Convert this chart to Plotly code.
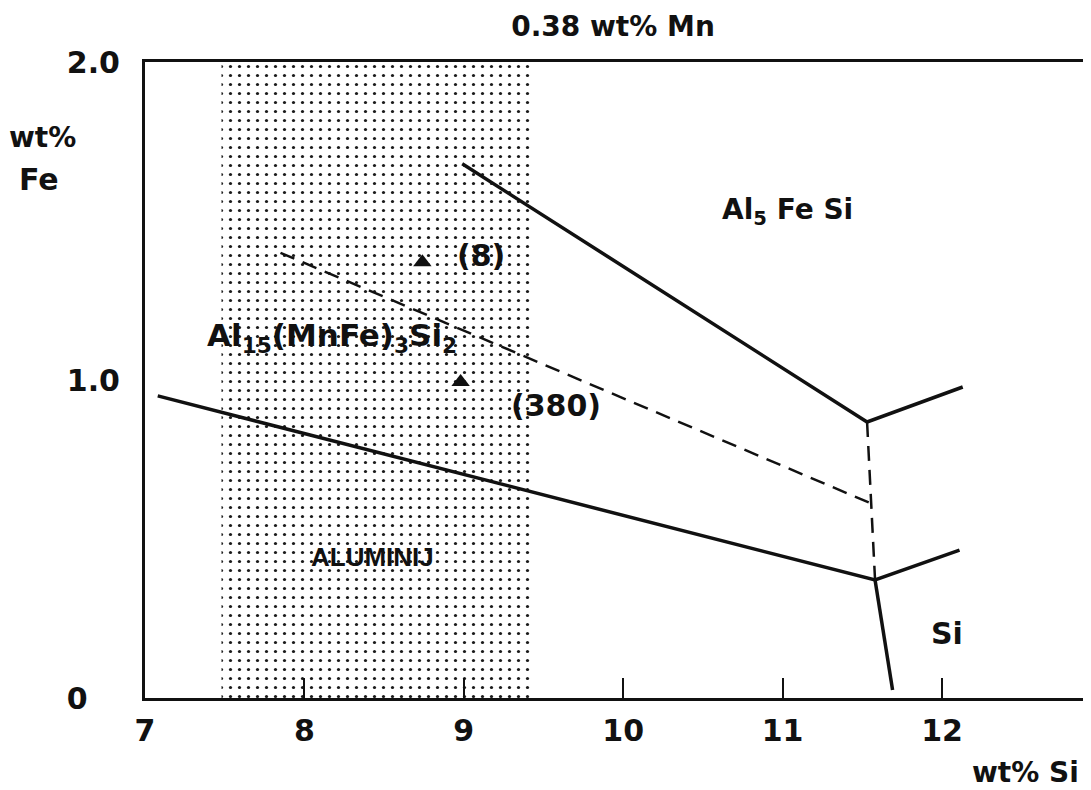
import plotly.graph_objects as go

# ---- data (wt% Si, wt% Fe) ----
region_x = [7.48, 9.43, 9.43, 7.48, 7.48]
region_y = [0.0, 0.0, 2.0, 2.0, 0.0]

upper_x = [8.99, 11.53, 12.13]
upper_y = [1.68, 0.868, 0.978]

lower_x = [7.08, 11.58, 12.11]
lower_y = [0.95, 0.371, 0.465]

si_x = [11.58, 11.69]
si_y = [0.371, 0.025]

dash_x = [7.85, 11.55]
dash_y = [1.40, 0.613]

vdash_x = [11.53, 11.58]
vdash_y = [0.868, 0.371]

pts_x = [8.74, 8.98]
pts_y = [1.37, 0.994]
pts_lab = ["(8)", "(380)"]
pts_lab_x = [9.11, 9.58]
pts_lab_y = [1.393, 0.921]

xtick_vals = [7, 8, 9, 10, 11, 12]
xtick_text = ["7", "8", "9", "10", "11", "12"]
ytick_vals = [0, 1, 2]
ytick_text = ["0\u2007\u2008", "1.0", "2.0"]

FONT = "DejaVu Sans"
BLACK = "#111111"
OFF = 8  # page body margin in the browser
PX_PER_UNIT = 159.4
PLOT_W = 1091 - (145 - OFF)

fig = go.Figure()

fig.add_trace(go.Scatter(
    x=region_x, y=region_y, mode="none", fill="toself",
    fillcolor="white",
    fillpattern=dict(shape=".", size=9, solidity=0.1, fgcolor="#1a1a1a",
                     bgcolor="white", fillmode="replace"),
    hoverinfo="skip", showlegend=False))

solid = dict(color=BLACK, width=3.5)
dashed = dict(color=BLACK, width=2.5, dash="15px,9px")

for xs, ys, ln in [(upper_x, upper_y, solid), (lower_x, lower_y, solid),
                   (si_x, si_y, solid), (dash_x, dash_y, dashed),
                   (vdash_x, vdash_y, dashed)]:
    fig.add_trace(go.Scatter(x=xs, y=ys, mode="lines", line=ln,
                             showlegend=False, hoverinfo="skip"))

fig.add_trace(go.Scatter(x=pts_x, y=pts_y, mode="markers",
                         marker=dict(symbol="triangle-up", size=16, color=BLACK),
                         showlegend=False))

C = dict(xanchor="center", yanchor="middle", showarrow=False)


def px_x(p):
    return (p - 145) / PLOT_W


def px_y(p):
    return (698 - p) / 636


annots = []
for lx, ly, t in zip(pts_lab_x, pts_lab_y, pts_lab):
    annots.append(dict(x=lx, y=ly, text="<b>" + t + "</b>",
                       font=dict(family=FONT, size=30, color=BLACK), **C))

annots += [
    dict(x=11.03, y=1.53, text="<b>Al<sub>5</sub> Fe Si</b>",
         font=dict(family=FONT, size=28, color=BLACK), **C),
    dict(x=8.17, y=1.135, text="<b>Al<sub>15</sub>(MnFe)<sub>3</sub>Si<sub>2</sub></b>",
         font=dict(family=FONT, size=31, color=BLACK), **C),
    dict(x=8.43, y=0.443, text="<b>ALUMINIJ</b>",
         font=dict(family="Liberation Sans", size=26, color=BLACK), **C),
    dict(x=12.03, y=0.204, text="<b>Si</b>",
         font=dict(family=FONT, size=30, color=BLACK), **C),
    dict(xref="paper", yref="paper", x=px_x(1025), y=px_y(772),
         text="<b>wt% Si</b>", font=dict(family=FONT, size=28, color=BLACK), **C),
    dict(xref="paper", yref="paper", x=px_x(42), y=px_y(137),
         text="<b>wt%</b>", font=dict(family=FONT, size=28, color=BLACK), **C),
    dict(xref="paper", yref="paper", x=px_x(39), y=px_y(180),
         text="<b>Fe</b>", font=dict(family=FONT, size=30, color=BLACK), **C),
]

fig.update_layout(
    width=1091, height=790,
    margin=dict(l=145 - OFF, r=0, t=62 - OFF, b=790 - 698 + OFF),
    paper_bgcolor="white", plot_bgcolor="white",
    title=dict(text="<b>0.38 wt% Mn</b>", x=(613 - OFF) / 1091, y=1 - (26 - OFF) / 790,
               xanchor="center", yanchor="middle", xref="container", yref="container",
               font=dict(family=FONT, size=28, color=BLACK)),
    annotations=annots,
    showlegend=False,
)

fig.update_xaxes(range=[7, 7 + PLOT_W / PX_PER_UNIT], tickvals=xtick_vals,
                 ticktext=["<b>" + t + "</b>" for t in xtick_text],
                 ticks="inside", ticklen=20, tickwidth=2, tickcolor=BLACK,
                 showline=True, linewidth=3, linecolor=BLACK, mirror=True,
                 showgrid=False, zeroline=False, ticklabelstandoff=4,
                 tickfont=dict(family=FONT, size=30, color=BLACK))
fig.update_yaxes(range=[0, 2], tickvals=ytick_vals,
                 ticktext=["<b>" + t + "</b>" for t in ytick_text],
                 ticks="", showline=True, linewidth=3, linecolor=BLACK,
                 showgrid=False, zeroline=False, ticklabelstandoff=16,
                 tickfont=dict(family=FONT, size=30, color=BLACK))

fig.write_html("out.html")
